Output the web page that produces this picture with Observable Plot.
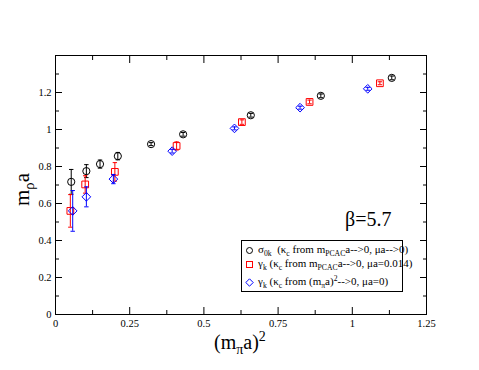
<!DOCTYPE html>
<html><head><meta charset="utf-8">
<script src="https://cdn.jsdelivr.net/npm/d3@7"></script>
<script src="https://cdn.jsdelivr.net/npm/@observablehq/plot@0.6"></script>
<style>
body{margin:0;background:#fff;}
#wrap{position:relative;width:479px;height:370px;font-family:"Liberation Serif","Times New Roman",serif;color:#000;}
#wrap svg text{font-family:"Liberation Serif","Times New Roman",serif;}
.lbl{position:absolute;white-space:nowrap;line-height:1;}
.lbl sub{font-size:70%;vertical-align:-0.35em;line-height:0;}
.lbl sup{font-size:70%;vertical-align:0.55em;line-height:0;}
#legend{position:absolute;left:241px;top:240px;width:162px;height:52px;border:1px solid #000;box-sizing:border-box;background:#fff;font-size:11px;}
#legend .row{position:absolute;left:3px;white-space:nowrap;line-height:1;}
#legend svg{vertical-align:middle;margin-right:4px;}
</style></head><body><div id="wrap"></div>
<script>
// black circles: sigma_0k (kappa_c from m_PCAC a -> 0, mu a -> 0)
const sigmaX   = [0.053, 0.104, 0.150, 0.210, 0.322, 0.430, 0.658, 0.894, 1.133];
const sigmaY   = [0.717, 0.775, 0.813, 0.856, 0.921, 0.974, 1.077, 1.182, 1.279];
const sigmaErr = [0.067, 0.035, 0.022, 0.020, 0.008, 0.010, 0.010, 0.010, 0.010];
// red squares: gamma_k (kappa_c from m_PCAC a -> 0, mu a = 0.014)
const pcacX    = [0.050, 0.100, 0.200, 0.408, 0.628, 0.856, 1.093];
const pcacY    = [0.560, 0.703, 0.771, 0.911, 1.040, 1.149, 1.250];
const pcacErr  = [0.088, 0.047, 0.050, 0.022, 0.012, 0.010, 0.008];
// blue diamonds: gamma_k (kappa_c from (m_pi a)^2 -> 0, mu a = 0)
const piX      = [0.058, 0.104, 0.195, 0.393, 0.603, 0.824, 1.052];
const piY      = [0.560, 0.636, 0.732, 0.883, 1.006, 1.118, 1.220];
const piErr    = [0.110, 0.054, 0.025, 0.010, 0.008, 0.008, 0.008];

const xTicks = [0, 0.25, 0.5, 0.75, 1, 1.25];
const xTickLabels = ["0", "0.25", "0.5", "0.75", "1", "1.25"];
const xMinor = [0.125, 0.375, 0.625, 0.875, 1.125];
const yTicks = [0, 0.2, 0.4, 0.6, 0.8, 1, 1.2];
const yTickLabels = ["0", "0.2", "0.4", "0.6", "0.8", "1", "1.2"];
const yMinor = [0.1, 0.3, 0.5, 0.7, 0.9, 1.1, 1.3];

const series = [
  {name: "sigma", xs: sigmaX, ys: sigmaY, es: sigmaErr, color: "#000000", symbol: "circle", r: 3.6},
  {name: "pcac", xs: pcacX, ys: pcacY, es: pcacErr, color: "#ff0000", symbol: "square", r: 3.8},
  {name: "pi", xs: piX, ys: piY, es: piErr, color: "#0000ff", symbol: "diamond2", r: 3.9}
];
const rows = series.flatMap(s => s.xs.map((x, i) => ({series: s.name, x, y: s.ys[i], e: s.es[i], color: s.color})));

const capSymbol = {draw(ctx) { ctx.moveTo(-2.2, 0); ctx.lineTo(2.2, 0); }};
const serif = '"Liberation Serif", "Times New Roman", serif';
const noLab = {label: null};

const marks = [
  Plot.frame({stroke: "#000", strokeWidth: 1}),
  // labels
  Plot.axisX(xTicks, {anchor: "bottom", tickSize: 0, tickPadding: 5, tickFormat: (d, i) => xTickLabels[i], fontSize: 10.5, fontFamily: serif, ...noLab}),
  Plot.axisY(yTicks, {anchor: "left", tickSize: 0, tickPadding: 4, tickFormat: (d, i) => yTickLabels[i], fontSize: 10.5, fontFamily: serif, ...noLab}),
  // major ticks (inward)
  Plot.axisX(xTicks, {anchor: "bottom", tickSize: -7, tickFormat: () => "", ...noLab}),
  Plot.axisX(xTicks, {anchor: "top", tickSize: -7, tickFormat: () => "", ...noLab}),
  Plot.axisY(yTicks, {anchor: "left", tickSize: -7, tickFormat: () => "", ...noLab}),
  Plot.axisY(yTicks, {anchor: "right", tickSize: -7, tickFormat: () => "", ...noLab}),
  // minor ticks
  Plot.axisX(xMinor, {anchor: "bottom", tickSize: -4, tickFormat: () => "", ...noLab}),
  Plot.axisX(xMinor, {anchor: "top", tickSize: -4, tickFormat: () => "", ...noLab}),
  Plot.axisY(yMinor, {anchor: "left", tickSize: -4, tickFormat: () => "", ...noLab}),
  Plot.axisY(yMinor, {anchor: "right", tickSize: -4, tickFormat: () => "", ...noLab})
];
for (const s of series) {
  const d = rows.filter(r => r.series === s.name);
  marks.push(
    Plot.ruleX(d, {x: "x", y1: r => r.y - r.e, y2: r => r.y + r.e, stroke: s.color, strokeWidth: 1}),
    Plot.dot(d, {x: "x", y: r => r.y - r.e, symbol: capSymbol, stroke: s.color, strokeWidth: 1}),
    Plot.dot(d, {x: "x", y: r => r.y + r.e, symbol: capSymbol, stroke: s.color, strokeWidth: 1}),
    Plot.dot(d, {x: "x", y: "y", symbol: s.symbol, r: s.r, stroke: s.color, fill: "none", strokeWidth: 1})
  );
}

const chart = Plot.plot({
  width: 479, height: 370,
  marginLeft: 55, marginRight: 53, marginTop: 55, marginBottom: 56,
  x: {domain: [0, 1.25], label: null},
  y: {domain: [0, 1.4], label: null},
  style: {fontFamily: serif, fontSize: "10.5px", color: "#000", background: "#fff"},
  marks
});
const wrap = document.getElementById("wrap");
wrap.appendChild(chart);

function addLabel(html, css) {
  const el = document.createElement("div");
  el.className = "lbl";
  el.innerHTML = html;
  Object.assign(el.style, css);
  wrap.appendChild(el);
  return el;
}
// axis titles
addLabel("(m<sub>π</sub>a)<sup>2</sup>", {left: "214px", top: "332px", fontSize: "20px"});
addLabel("m<sub>ρ</sub>a", {left: "2px", top: "179px", fontSize: "21px", transform: "rotate(-90deg)", transformOrigin: "center center", width: "40px", textAlign: "center"});
addLabel("β=5.7", {left: "345px", top: "209px", fontSize: "20px"});

// legend
const legend = document.createElement("div");
legend.id = "legend";
const sym = {
  circle: c => `<svg width="9" height="9"><circle cx="4.5" cy="4.5" r="3" fill="none" stroke="${c}"/></svg>`,
  square: c => `<svg width="9" height="9"><rect x="1.5" y="1.5" width="6" height="6" fill="none" stroke="${c}"/></svg>`,
  diamond2: c => `<svg width="9" height="9"><path d="M4.5,0.8L8.2,4.5L4.5,8.2L0.8,4.5Z" fill="none" stroke="${c}"/></svg>`
};
const legendTexts = [
  "σ<sub>0k</sub> &nbsp;(κ<sub>c</sub> from m<sub>PCAC</sub>a-->0, μa-->0)",
  "γ<sub>k</sub> (κ<sub>c</sub> from m<sub>PCAC</sub>a-->0, μa=0.014)",
  "γ<sub>k</sub> (κ<sub>c</sub> from (m<sub>π</sub>a)<sup>2</sup>-->0, μa=0)"
];
const rowTops = [3, 17, 35];
series.forEach((s, i) => {
  const row = document.createElement("div");
  row.className = "row lbl";
  row.style.top = rowTops[i] + "px";
  row.innerHTML = sym[s.symbol](s.color) + legendTexts[i];
  legend.appendChild(row);
});
wrap.appendChild(legend);
</script></body></html>
